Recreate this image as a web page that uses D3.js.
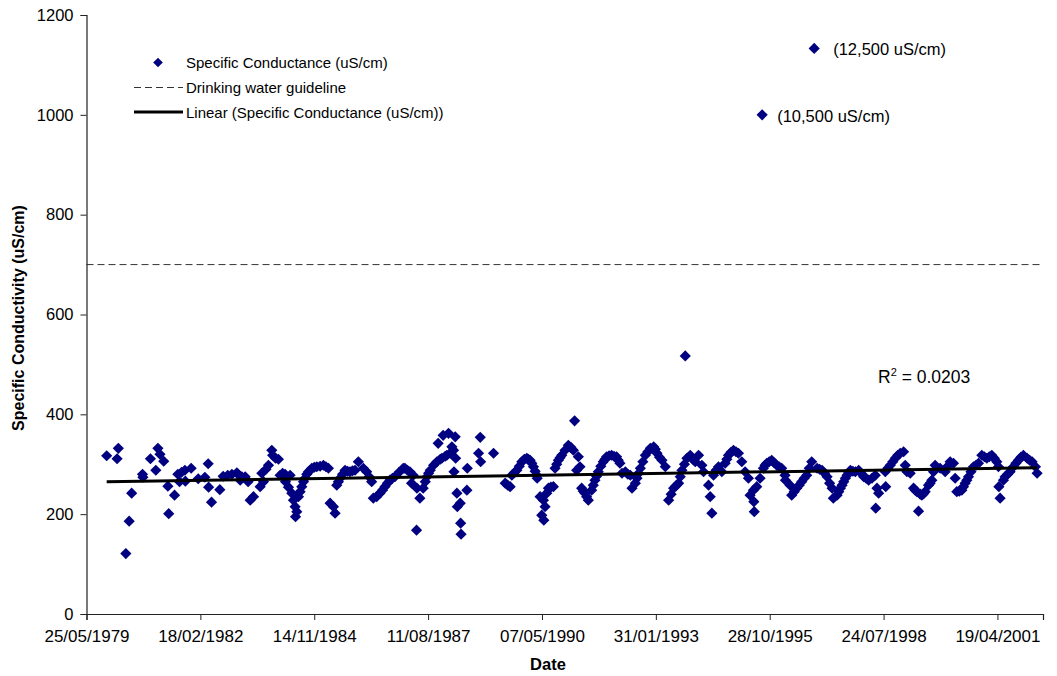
<!DOCTYPE html>
<html>
<head>
<meta charset="utf-8">
<script src="https://cdn.jsdelivr.net/npm/d3@7"></script>
<style>
  html, body { margin: 0; padding: 0; background: #fff; }
  svg { display: block; font-family: "Liberation Sans", Arial, sans-serif; }
</style>
</head>
<body>
<svg id="chart" width="1057" height="676"></svg>
<script>
// ---------------- data ----------------
// sample dates as decimal years
const sampleDates = [
  1979.88, 1980.13, 1980.16, 1980.34, 1980.42, 1980.48, 1980.74, 1980.75, 1980.93, 1981.06,
  1981.11, 1981.16, 1981.25, 1981.35, 1981.37, 1981.51, 1981.59, 1981.63, 1981.68, 1981.76,
  1981.77, 1981.91, 1982.08, 1982.24, 1982.32, 1982.33, 1982.40, 1982.60, 1982.68, 1982.79,
  1982.89, 1983.01, 1983.06, 1983.09, 1983.13, 1983.21, 1983.28, 1983.33, 1983.41, 1983.57,
  1983.61, 1983.65, 1983.71, 1983.77, 1983.85, 1983.87, 1983.94, 1984.01, 1984.05, 1984.11,
  1984.17, 1984.18, 1984.25, 1984.29, 1984.33, 1984.37, 1984.41, 1984.42, 1984.45, 1984.49,
  1984.53, 1984.57, 1984.61, 1984.65, 1984.69, 1984.73, 1984.77, 1984.81, 1984.87, 1984.93,
  1985.01, 1985.09, 1985.15, 1985.21, 1985.25, 1985.33, 1985.37, 1985.41, 1985.45, 1985.49,
  1985.55, 1985.61, 1985.67, 1985.73, 1985.79, 1985.85, 1985.93, 1986.05, 1986.13, 1986.19,
  1986.25, 1986.29, 1986.37, 1986.45, 1986.51, 1986.57, 1986.63, 1986.69, 1986.75, 1986.81,
  1986.91, 1987.01, 1987.05, 1987.11, 1987.17, 1987.21, 1987.25, 1987.33, 1987.34, 1987.41,
  1987.49, 1987.54, 1987.58, 1987.62, 1987.66, 1987.74, 1987.82, 1987.85, 1987.90, 1987.94,
  1987.97, 1988.02, 1988.06, 1988.10, 1988.14, 1988.18, 1988.22, 1988.23, 1988.26, 1988.27,
  1988.30, 1988.31, 1988.38, 1988.39, 1988.40, 1988.54, 1988.55, 1988.82, 1988.86, 1988.87,
  1989.18, 1989.46, 1989.52, 1989.58, 1989.62, 1989.68, 1989.74, 1989.80, 1989.86, 1989.92,
  1989.98, 1990.02, 1990.06, 1990.10, 1990.14, 1990.18, 1990.22, 1990.23, 1990.30, 1990.34,
  1990.38, 1990.39, 1990.42, 1990.46, 1990.50, 1990.56, 1990.62, 1990.66, 1990.70, 1990.74,
  1990.78, 1990.82, 1990.90, 1990.98, 1991.04, 1991.10, 1991.13, 1991.18, 1991.22, 1991.26,
  1991.30, 1991.34, 1991.38, 1991.42, 1991.46, 1991.54, 1991.58, 1991.62, 1991.66, 1991.70,
  1991.76, 1991.82, 1991.86, 1991.90, 1991.96, 1992.02, 1992.08, 1992.14, 1992.18, 1992.22,
  1992.27, 1992.35, 1992.41, 1992.47, 1992.51, 1992.59, 1992.63, 1992.67, 1992.71, 1992.77,
  1992.83, 1992.89, 1992.95, 1993.03, 1993.07, 1993.11, 1993.17, 1993.23, 1993.31, 1993.39,
  1993.45, 1993.51, 1993.57, 1993.63, 1993.67, 1993.71, 1993.77, 1993.79, 1993.83, 1993.91,
  1993.97, 1994.03, 1994.11, 1994.19, 1994.23, 1994.35, 1994.39, 1994.43, 1994.47, 1994.53,
  1994.59, 1994.67, 1994.75, 1994.79, 1994.83, 1994.89, 1994.95, 1995.01, 1995.07, 1995.15,
  1995.23, 1995.31, 1995.35, 1995.43, 1995.44, 1995.45, 1995.51, 1995.59, 1995.64, 1995.67,
  1995.71, 1995.75, 1995.81, 1995.87, 1995.93, 1995.99, 1996.05, 1996.11, 1996.19, 1996.20,
  1996.31, 1996.35, 1996.41, 1996.47, 1996.53, 1996.59, 1996.65, 1996.71, 1996.77, 1996.83,
  1996.89, 1996.96, 1997.02, 1997.08, 1997.14, 1997.20, 1997.26, 1997.32, 1997.35, 1997.44,
  1997.48, 1997.52, 1997.56, 1997.60, 1997.64, 1997.68, 1997.72, 1997.76, 1997.82, 1997.88,
  1997.96, 1998.02, 1998.08, 1998.14, 1998.20, 1998.28, 1998.36, 1998.37, 1998.40, 1998.44,
  1998.60, 1998.61, 1998.66, 1998.72, 1998.78, 1998.84, 1998.90, 1998.96, 1999.04, 1999.08,
  1999.12, 1999.20, 1999.28, 1999.32, 1999.36, 1999.40, 1999.44, 1999.48, 1999.52, 1999.56,
  1999.64, 1999.68, 1999.72, 1999.76, 1999.80, 1999.92, 2000.04, 2000.10, 2000.16, 2000.24,
  2000.28, 2000.32, 2000.38, 2000.44, 2000.48, 2000.52, 2000.56, 2000.60, 2000.66, 2000.72,
  2000.78, 2000.84, 2000.92, 2000.98, 2001.04, 2001.10, 2001.16, 2001.22, 2001.28, 2001.32,
  2001.33, 2001.36, 2001.44, 2001.48, 2001.54, 2001.60, 2001.68, 2001.74, 2001.80, 2001.86,
  2001.92, 2002.01, 2002.07, 2002.13, 2002.21, 2002.25
];
// specific conductance (uS/cm) as plotted
const conductance = [
  317, 311, 332, 121, 186, 242, 280, 274, 311, 288,
  332, 320, 306, 256, 201, 238, 280, 265, 284, 288,
  266, 292, 271, 274, 301, 254, 224, 249, 276, 278,
  280, 283, 278, 268, 275, 275, 265, 228, 235, 255,
  282, 265, 290, 298, 328, 318, 312, 310, 278, 282,
  280, 265, 254, 278, 242, 228, 215, 195, 205, 235,
  245, 255, 265, 272, 280, 285, 288, 292, 294, 295,
  296, 298, 295, 292, 222, 215, 202, 258, 265, 272,
  280, 288, 286, 285, 287, 288, 305, 292, 285, 275,
  265, 232, 235, 242, 248, 255, 262, 268, 272, 275,
  284, 292, 292, 288, 285, 262, 278, 168, 252, 232,
  252, 265, 275, 282, 288, 298, 305, 342, 310, 312,
  358, 316, 318, 362, 322, 335, 328, 285, 355, 312,
  242, 215, 222, 182, 160, 248, 292, 322, 354, 305,
  322, 262, 258, 255, 278, 283, 288, 296, 305, 310,
  312, 310, 308, 302, 295, 286, 278, 272, 235, 198,
  228, 188, 215, 242, 252, 254, 255, 292, 300, 308,
  313, 318, 328, 338, 334, 328, 387, 288, 315, 295,
  252, 246, 242, 235, 228, 248, 258, 268, 276, 285,
  296, 305, 310, 315, 317, 318, 316, 315, 308, 302,
  282, 285, 280, 278, 252, 262, 272, 282, 292, 305,
  318, 325, 332, 335, 330, 322, 314, 308, 295, 228,
  240, 252, 257, 262, 275, 288, 300, 517, 312, 318,
  310, 305, 318, 298, 285, 258, 235, 202, 278, 288,
  295, 285, 302, 310, 318, 324, 328, 325, 322, 305,
  285, 272, 238, 248, 225, 205, 255, 272, 1000, 292,
  298, 302, 305, 308, 303, 298, 295, 292, 278, 268,
  258, 238, 245, 252, 258, 265, 272, 278, 292, 305,
  1133, 292, 290, 288, 282, 275, 262, 252, 232, 238,
  245, 252, 258, 265, 272, 278, 283, 288, 286, 285,
  288, 282, 275, 272, 268, 272, 278, 212, 252, 242,
  285, 255, 292, 298, 305, 312, 318, 322, 325, 298,
  285, 282, 252, 248, 245, 206, 240, 238, 241, 245,
  258, 262, 268, 285, 298, 292, 285, 296, 305, 302,
  272, 245, 246, 248, 255, 262, 268, 275, 285, 295,
  298, 302, 318, 315, 312, 315, 318, 312, 305, 295,
  255, 232, 268, 275, 280, 285, 295, 302, 308, 314,
  318, 312, 308, 305, 295, 282
];
// annotated extreme samples (true value written beside the plotted point)
const outlierDates  = [1995.64, 1996.89];
const outlierValues = [1000, 1133];
const outlierLabels = ["(10,500 uS/cm)", "(12,500 uS/cm)"];

// linear trend end points
const trendDates  = [1979.88, 2002.25];
const trendValues = [265, 293];
const rSquaredText = "0.0203";

const guidelineValue = 700;

const xTickLabels = ["25/05/1979", "18/02/1982", "14/11/1984", "11/08/1987", "07/05/1990",
                     "31/01/1993", "28/10/1995", "24/07/1998", "19/04/2001"];
const xDomainLabels = ["25/05/1979", "24/05/2002"];
const yTicks = [0, 200, 400, 600, 800, 1000, 1200];

const legendLabels = ["Specific Conductance (uS/cm)", "Drinking water guideline",
                      "Linear (Specific Conductance (uS/cm))"];

// ---------------- helpers ----------------
function decYear(d) {
  const y = Math.floor(d);
  const s = Date.UTC(y, 0, 1), e = Date.UTC(y + 1, 0, 1);
  return new Date(s + (d - y) * (e - s));
}
const parseDMY = d3.utcParse("%d/%m/%Y");

// ---------------- layout ----------------
const svg = d3.select("#chart");
const plot = { left: 86.5, right: 1043, top: 15, bottom: 614 };

const x = d3.scaleUtc()
  .domain(xDomainLabels.map(parseDMY))
  .range([plot.left, plot.right]);
const y = d3.scaleLinear()
  .domain([0, 1200])
  .range([plot.bottom, plot.top]);

const navy = "#000080";
const diamond = r => `M0,${-r}L${r},0L0,${r}L${-r},0Z`;

// guideline (dashed)
svg.append("line")
  .attr("x1", plot.left).attr("x2", plot.right)
  .attr("y1", y(guidelineValue)).attr("y2", y(guidelineValue))
  .attr("stroke", "#333").attr("stroke-width", 1)
  .attr("stroke-dasharray", "7,4");

// points
const pts = sampleDates.map((d, i) => ({ d: decYear(d), v: conductance[i] }));
svg.append("g").selectAll("path")
  .data(pts).enter().append("path")
  .attr("d", diamond(5.6))
  .attr("transform", p => `translate(${x(p.d)},${y(p.v)})`)
  .attr("fill", navy);

// trend line
const trend = trendDates.map((d, i) => ({ d: decYear(d), v: trendValues[i] }));
svg.append("path")
  .datum(trend)
  .attr("d", d3.line().x(p => x(p.d)).y(p => y(p.v)))
  .attr("stroke", "#000").attr("stroke-width", 3).attr("fill", "none");

// axes
const yAxis = d3.axisLeft(y).tickValues(yTicks).tickFormat(d3.format("d"))
  .tickSize(6).tickPadding(7);
const gy = svg.append("g").attr("transform", `translate(${plot.left},0)`).call(yAxis);
const xAxis = d3.axisBottom(x).tickValues(xTickLabels.map(parseDMY))
  .tickFormat(d3.utcFormat("%d/%m/%Y")).tickSize(6).tickPadding(10);
const gx = svg.append("g").attr("transform", `translate(0,${plot.bottom})`).call(xAxis);

[gx, gy].forEach(g => {
  g.select(".domain").attr("stroke", "#222").attr("stroke-width", 1.2);
  g.selectAll(".tick line").attr("stroke", "#222");
  g.selectAll("text").attr("fill", "#000")
    .attr("font-family", "'Liberation Sans', Arial, sans-serif");
});
gy.selectAll("text").attr("font-size", 16.5);
gx.selectAll("text").attr("font-size", 17);

// axis titles
svg.append("text")
  .attr("transform", "translate(24,318) rotate(-90)")
  .attr("text-anchor", "middle")
  .attr("font-weight", "bold").attr("font-size", 16)
  .text("Specific Conductivity (uS/cm)");
svg.append("text")
  .attr("x", 548).attr("y", 670)
  .attr("text-anchor", "middle")
  .attr("font-weight", "bold").attr("font-size", 16.5)
  .text("Date");

// outlier labels
const outlierLabelGap = [15, 19];
outlierDates.forEach((d, i) => {
  svg.append("text")
    .attr("x", x(decYear(d)) + outlierLabelGap[i])
    .attr("y", y(outlierValues[i]) + 7)
    .attr("font-size", 16.5)
    .text(outlierLabels[i]);
});

// R squared
const rt = svg.append("text").attr("x", 878).attr("y", 383).attr("font-size", 17.5);
rt.append("tspan").text("R");
rt.append("tspan").attr("font-size", 11).attr("dy", -7).text("2");
rt.append("tspan").attr("dy", 7).text(" = " + rSquaredText);

// legend
const lg = svg.append("g");
const rows = [62.5, 87.5, 112];
lg.append("path").attr("d", diamond(4.8))
  .attr("transform", `translate(158,${rows[0]})`).attr("fill", navy);
lg.append("line").attr("x1", 134).attr("x2", 183)
  .attr("y1", rows[1]).attr("y2", rows[1])
  .attr("stroke", "#333").attr("stroke-dasharray", "7,4");
lg.append("line").attr("x1", 134).attr("x2", 183)
  .attr("y1", rows[2]).attr("y2", rows[2])
  .attr("stroke", "#000").attr("stroke-width", 3);
legendLabels.forEach((t, i) => {
  lg.append("text").attr("x", 186).attr("y", rows[i] + 5.5)
    .attr("font-size", 15).text(t);
});
</script>
</body>
</html>
